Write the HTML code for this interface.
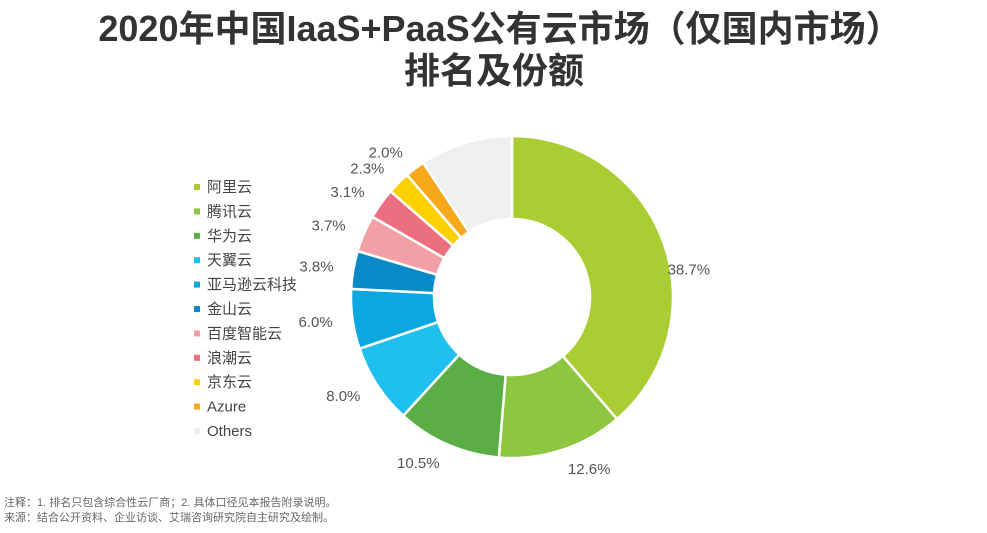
<!DOCTYPE html>
<html><head><meta charset="utf-8"><style>
body{margin:0;width:987px;height:528px;background:#fff;overflow:hidden;font-family:"Liberation Sans","Noto Sans CJK SC",sans-serif}
</style></head><body>
<svg width="987" height="528" xmlns="http://www.w3.org/2000/svg">
<text x="500" y="41" text-anchor="middle" font-size="36" font-weight="bold" fill="#333" font-family="Liberation Sans,Noto Sans CJK SC,sans-serif">2020年中国IaaS+PaaS公有云市场（仅国内市场）</text>
<text x="494" y="83" text-anchor="middle" font-size="36" font-weight="bold" fill="#333" font-family="Liberation Sans,Noto Sans CJK SC,sans-serif">排名及份额</text>
<g id="slices"></g><g id="labels"></g><g id="legend"></g>
<text x="4" y="506" font-size="11" fill="#666" font-family="Liberation Sans,Noto Sans CJK SC,sans-serif">注释：1. 排名只包含综合性云厂商；2. 具体口径见本报告附录说明。</text>
<text x="4" y="521" font-size="11" fill="#666" font-family="Liberation Sans,Noto Sans CJK SC,sans-serif">来源：结合公开资料、企业访谈、艾瑞咨询研究院自主研究及绘制。</text>
</svg>
<script>
const categories=["阿里云","腾讯云","华为云","天翼云","亚马逊云科技","金山云","百度智能云","浪潮云","京东云","Azure","Others"];
const values=[38.7,12.6,10.5,8.0,6.0,3.8,3.7,3.1,2.3,2.0,9.3];
const valueLabels=["38.7%","12.6%","10.5%","8.0%","6.0%","3.8%","3.7%","3.1%","2.3%","2.0%",""];
const colors=["#a9cd32","#8dc63f","#5aae45","#1fc0ef","#0ba8e0","#0a8bc7","#f2a0a5","#ec6f80","#fdd000","#f8a81b","#efefef"];
const NS="http://www.w3.org/2000/svg";
const cx=512,cy=297,R=161,r0=78;
const total=values.reduce((a,b)=>a+b,0);
function pt(a,rad){return [cx+rad*Math.sin(a),cy-rad*Math.cos(a)];}
let acc=0;
const sg=document.getElementById('slices'),lg=document.getElementById('labels'),leg=document.getElementById('legend');
values.forEach((v,i)=>{
  const a0=acc/total*2*Math.PI;acc+=v;const a1=acc/total*2*Math.PI;
  const big=(a1-a0)>Math.PI?1:0;
  const [x0,y0]=pt(a0,R),[x1,y1]=pt(a1,R),[x2,y2]=pt(a1,r0),[x3,y3]=pt(a0,r0);
  const p=document.createElementNS(NS,'path');
  p.setAttribute('d',`M${x0},${y0}A${R},${R} 0 ${big} 1 ${x1},${y1}L${x2},${y2}A${r0},${r0} 0 ${big} 0 ${x3},${y3}Z`);
  p.setAttribute('fill',colors[i]);p.setAttribute('stroke','#fff');p.setAttribute('stroke-width','2.5');
  
  
  sg.appendChild(p);
  if(valueLabels[i]){
    const am=(a0+a1)/2;
    const big0=i===0;
    const [lx,ly]=big0?pt(am+0.2,R+18):pt(am,R+20);
    const t=document.createElementNS(NS,'text');
    t.setAttribute('x',lx);t.setAttribute('y',ly+5);
    t.setAttribute('text-anchor',big0?'middle':(Math.sin(am)>0.3?'start':(Math.sin(am)<-0.3?'end':'middle')));
    t.setAttribute('font-size','15');t.setAttribute('fill','#555');
    t.textContent=valueLabels[i];
    
    
    lg.appendChild(t);
  }
  const y=187+i*24.4;
  const s=document.createElementNS(NS,'rect');
  s.setAttribute('x',194);s.setAttribute('y',y-3);s.setAttribute('width',6);s.setAttribute('height',6);s.setAttribute('fill',colors[i]);
  
  
  leg.appendChild(s);
  const t2=document.createElementNS(NS,'text');
  t2.setAttribute('x',207);t2.setAttribute('y',y+5);t2.setAttribute('font-size','15');t2.setAttribute('fill','#444');
  t2.textContent=categories[i];
  
  
  leg.appendChild(t2);
});
</script>
</body></html>
